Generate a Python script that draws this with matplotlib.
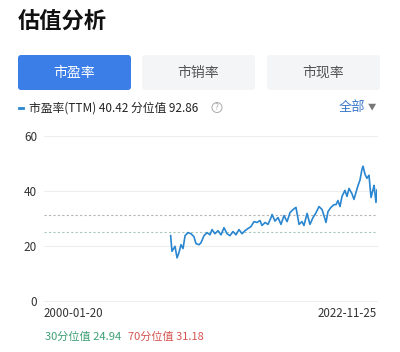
import matplotlib.pyplot as plt
from matplotlib.patches import FancyBboxPatch, Circle

plt.rcParams['font.family'] = ['Noto Sans CJK SC', 'DejaVu Sans']

# Données (année décimale, PE TTM)
years = [2008.74, 2008.83, 2009.04, 2009.18, 2009.31, 2009.45, 2009.59, 2009.73, 2009.93,
         2010.14, 2010.34, 2010.48, 2010.69, 2010.82, 2011.03, 2011.24, 2011.44, 2011.58,
         2011.78, 2011.99, 2012.20, 2012.40, 2012.61, 2012.81, 2013.02, 2013.22, 2013.43,
         2013.64, 2013.84, 2014.05, 2014.25, 2014.46, 2014.67, 2014.87, 2015.01, 2015.22,
         2015.42, 2015.63, 2015.70, 2015.90, 2016.11, 2016.31, 2016.52, 2016.73, 2016.93,
         2017.14, 2017.34, 2017.55, 2017.75, 2017.89, 2018.10, 2018.30, 2018.51, 2018.72,
         2018.92, 2019.13, 2019.26, 2019.40, 2019.54, 2019.74, 2019.95, 2020.09, 2020.22,
         2020.36, 2020.50, 2020.70, 2020.84, 2020.98, 2021.18, 2021.32, 2021.46, 2021.60,
         2021.73, 2021.87, 2021.94, 2022.08, 2022.21, 2022.35, 2022.49, 2022.63, 2022.70,
         2022.83, 2022.90]
pe = [23.7, 18.0, 19.8, 15.6, 17.5, 20.4, 19.0, 23.7, 24.8,
      24.4, 23.3, 20.8, 20.4, 21.1, 23.7, 24.8, 24.0, 25.9,
      24.4, 25.5, 24.0, 26.6, 24.4, 23.7, 25.2, 24.0, 25.9,
      24.4, 25.5, 26.3, 27.0, 28.8, 28.5, 29.2, 27.4, 28.5,
      27.8, 30.3, 31.4, 29.0, 30.3, 27.8, 31.0, 28.8, 32.1,
      33.2, 34.0, 27.8, 28.8, 27.4, 31.8, 27.8, 30.3, 32.1,
      34.3, 33.2, 31.0, 28.5, 32.5, 34.0, 35.0, 35.0, 36.5,
      34.3, 38.0, 40.2, 38.0, 40.9, 39.0, 36.9, 39.5, 42.0,
      43.9, 47.9, 49.0, 46.0, 44.6, 45.7, 37.6, 40.5, 42.0,
      35.8, 40.4]

x_start, x_end = 2000.05, 2022.90
date_labels = ["2000-01-20", "2022-11-25"]
y_ticks = [0, 20, 40, 60]
p30, p70 = 24.94, 31.18
tabs = ["市盈率", "市销率", "市现率"]

fig = plt.figure(figsize=(4, 3.52), dpi=100)

# calque de fond en pixels (0..400, 0..352 vers le bas)
bg = fig.add_axes([0, 0, 1, 1], zorder=0)
bg.set_xlim(0, 400)
bg.set_ylim(352, 0)
bg.axis("off")

bg.text(18, 21, "估值分析", fontsize=16, fontweight="bold", color="#111111", va="center")

tab_x = [18, 142, 267]
for i, (name, tx) in enumerate(zip(tabs, tab_x)):
    active = i == 0
    bg.add_patch(FancyBboxPatch((tx + 3, 58), 107, 29, boxstyle="round,pad=3",
                                fc="#3b7ee8" if active else "#f4f5f7", ec="none"))
    bg.text(tx + 56.5, 72.5, name, fontsize=10, ha="center", va="center",
            color="white" if active else "#555555")

bg.plot([19, 23], [108, 108], color="#2a86d0", lw=2)
bg.text(29, 108, "市盈率(TTM) 40.42 分位值 92.86", fontsize=8.5, va="center", color="#222222")
bg.add_patch(Circle((217, 107.5), 5, fc="none", ec="#aaaaaa", lw=0.7))
bg.text(217, 107.8, "?", fontsize=6, ha="center", va="center", color="#aaaaaa")
bg.text(339, 108, "全部", fontsize=9.5, va="center", color="#3a78c8")
bg.text(372, 107, "▼", fontsize=6, ha="center", va="center", color="#777777")

bg.text(45, 337, "30分位值 24.94", fontsize=8, va="center", color="#3d9e73")
bg.text(128, 337, "70分位值 31.18", fontsize=8, va="center", color="#d4534f")

# graphique principal
ax = fig.add_axes([44 / 400, 51.3 / 352, 333 / 400, 164.7 / 352], zorder=1)
ax.patch.set_alpha(0)
ax.set_xlim(x_start, x_end)
ax.set_ylim(0, 60)
for s in ax.spines.values():
    s.set_visible(False)
for v in y_ticks:
    ax.axhline(v, color="#eeeeee", lw=0.8, clip_on=False, zorder=1)
ax.axhline(p70, color="#b9b2b2", lw=0.8, ls=(0, (2, 2)), zorder=1)
ax.axhline(p30, color="#a9c9b8", lw=0.8, ls=(0, (2, 2)), zorder=1)
ax.plot(years, pe, color="#2a86d0", lw=1.2, zorder=3)

ax.set_yticks(y_ticks)
ax.set_yticklabels([str(v) for v in y_ticks], fontsize=8.5, color="#333333")
ax.tick_params(axis="y", length=0, pad=5)
ax.set_xticks([])
ax.text(0, -0.04, date_labels[0], transform=ax.transAxes, fontsize=8.3,
        color="#333333", ha="left", va="top")
ax.text(1, -0.04, date_labels[1], transform=ax.transAxes, fontsize=8.3,
        color="#333333", ha="right", va="top")

fig.savefig("out.png", dpi=100)
